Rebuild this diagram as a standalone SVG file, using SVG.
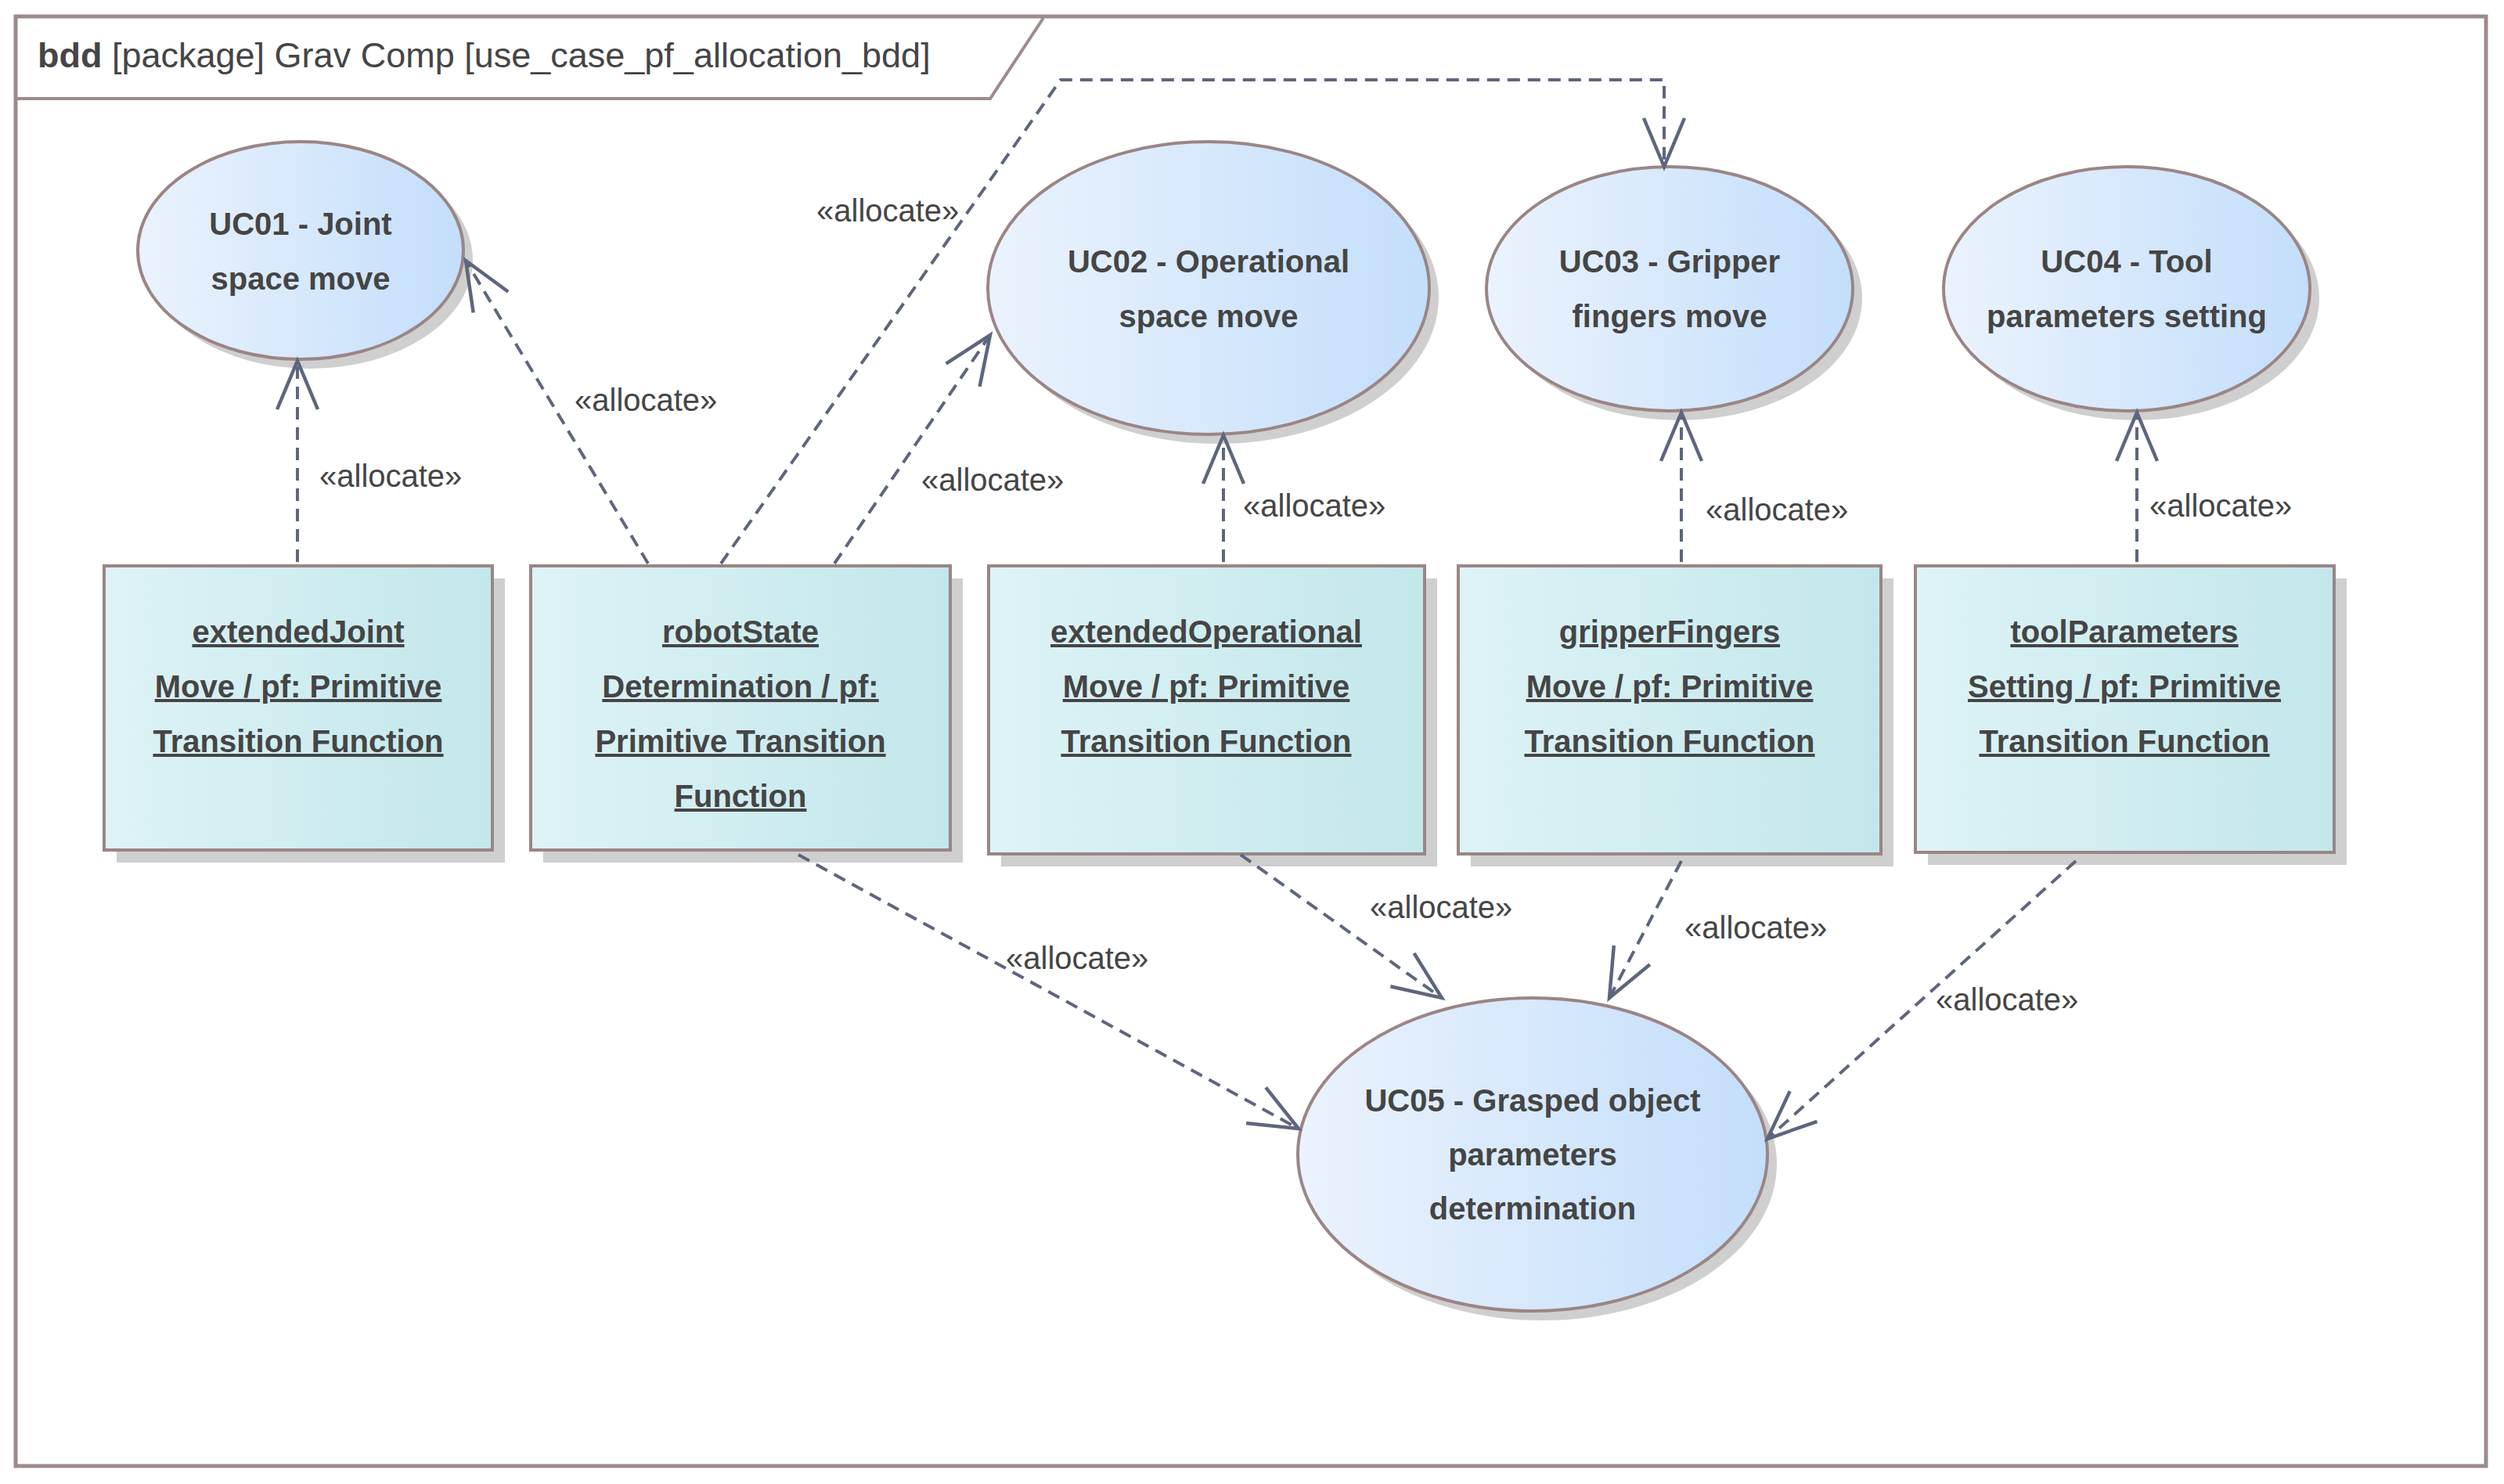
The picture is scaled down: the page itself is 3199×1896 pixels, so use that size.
<svg xmlns="http://www.w3.org/2000/svg" width="3199" height="1896" viewBox="0 0 3199 1896">
<defs>
<linearGradient id="gE" x1="0" y1="0" x2="1" y2="0"><stop offset="0" stop-color="#eaf3fd"/><stop offset="1" stop-color="#c4defa"/></linearGradient>
<linearGradient id="gB" x1="0" y1="0" x2="1" y2="0"><stop offset="0" stop-color="#def3f5"/><stop offset="1" stop-color="#c2e7eb"/></linearGradient>
<marker id="ar" markerUnits="userSpaceOnUse" markerWidth="80" markerHeight="80" refX="0" refY="0" viewBox="-70 -40 80 80" orient="auto" overflow="visible"><path d="M-62,-26 L0,0 L-62,26" fill="none" stroke="#5d667c" stroke-width="4.5"/></marker>
</defs>
<style>
.sh{fill:#cfcfcf}
.el{fill:url(#gE);stroke:#9b8585;stroke-width:4}
.bx{fill:url(#gB);stroke:#9b8585;stroke-width:4}
.t{font-family:"Liberation Sans",Arial,sans-serif;font-weight:bold;font-size:40px;fill:#454545;text-anchor:middle}
.u{text-decoration:underline}
.lb{font-family:"Liberation Sans",Arial,sans-serif;font-size:40px;fill:#454545}
.c{fill:none;stroke:#5d667c;stroke-width:4;stroke-dasharray:16 10;marker-end:url(#ar)}
</style>
<rect width="3199" height="1896" fill="#fff"/>
<g id="frame">
<rect x="20" y="21" width="3156" height="1852" fill="none" stroke="#9b8b8b" stroke-width="5"/>
<path d="M22,126 L1265,126 L1333,23" fill="none" stroke="#9b8b8b" stroke-width="4"/>
<text x="48" y="86" font-family="'Liberation Sans',Arial,sans-serif" font-size="45" fill="#454545"><tspan font-weight="bold">bdd</tspan> [package] Grav Comp [use_case_pf_allocation_bdd]</text>
</g>
<g id="UC01"><ellipse class="sh" cx="396" cy="332" rx="208" ry="139"/><ellipse class="el" cx="384" cy="320" rx="208" ry="139"/><text class="t" x="384" y="300">UC01 - Joint</text><text class="t" x="384" y="370">space move</text></g>
<g id="UC02"><ellipse class="sh" cx="1556" cy="380" rx="282" ry="187"/><ellipse class="el" cx="1544" cy="368" rx="282" ry="187"/><text class="t" x="1544" y="348">UC02 - Operational</text><text class="t" x="1544" y="418">space move</text></g>
<g id="UC03"><ellipse class="sh" cx="2145" cy="381" rx="234" ry="156"/><ellipse class="el" cx="2133" cy="369" rx="234" ry="156"/><text class="t" x="2133" y="348">UC03 - Gripper</text><text class="t" x="2133" y="418">fingers move</text></g>
<g id="UC04"><ellipse class="sh" cx="2729" cy="381" rx="234" ry="156"/><ellipse class="el" cx="2717" cy="369" rx="234" ry="156"/><text class="t" x="2717" y="348">UC04 - Tool</text><text class="t" x="2717" y="418">parameters setting</text></g>
<g id="UC05"><ellipse class="sh" cx="1970" cy="1487" rx="300" ry="200"/><ellipse class="el" cx="1958" cy="1475" rx="300" ry="200"/><text class="t" x="1958" y="1420">UC05 - Grasped object</text><text class="t" x="1958" y="1489">parameters</text><text class="t" x="1958" y="1558">determination</text></g>
<g id="box1"><rect class="sh" x="149" y="739" width="496" height="363"/><rect class="bx" x="133" y="723" width="496" height="363"/><text class="t u" x="381" y="821">extendedJoint</text><text class="t u" x="381" y="891">Move / pf: Primitive</text><text class="t u" x="381" y="961">Transition Function</text></g>
<g id="box2"><rect class="sh" x="694" y="739" width="536" height="363"/><rect class="bx" x="678" y="723" width="536" height="363"/><text class="t u" x="946" y="821">robotState</text><text class="t u" x="946" y="891">Determination / pf:</text><text class="t u" x="946" y="961">Primitive Transition</text><text class="t u" x="946" y="1031">Function</text></g>
<g id="box3"><rect class="sh" x="1279" y="739" width="557" height="368"/><rect class="bx" x="1263" y="723" width="557" height="368"/><text class="t u" x="1541" y="821">extendedOperational</text><text class="t u" x="1541" y="891">Move / pf: Primitive</text><text class="t u" x="1541" y="961">Transition Function</text></g>
<g id="box4"><rect class="sh" x="1879" y="739" width="540" height="368"/><rect class="bx" x="1863" y="723" width="540" height="368"/><text class="t u" x="2133" y="821">gripperFingers</text><text class="t u" x="2133" y="891">Move / pf: Primitive</text><text class="t u" x="2133" y="961">Transition Function</text></g>
<g id="box5"><rect class="sh" x="2463" y="739" width="535" height="366"/><rect class="bx" x="2447" y="723" width="535" height="366"/><text class="t u" x="2714" y="821">toolParameters</text><text class="t u" x="2714" y="891">Setting / pf: Primitive</text><text class="t u" x="2714" y="961">Transition Function</text></g>
<g id="connectors">
<path class="c" d="M380,718 L380,461"/>
<path class="c" d="M828,720 L595,333"/>
<path class="c" d="M921,720 L1355,102 L2126,102 L2126,213"/>
<path class="c" d="M1066,720 L1265,428"/>
<path class="c" d="M1563,718 L1563,556"/>
<path class="c" d="M2148,718 L2148,527"/>
<path class="c" d="M2730,718 L2730,527"/>
<path class="c" d="M1020,1092 L1659,1442"/>
<path class="c" d="M1585,1092 L1842,1275"/>
<path class="c" d="M2148,1100 L2056,1275"/>
<path class="c" d="M2652,1100 L2258,1455"/>
<text class="lb" x="408" y="622">«allocate»</text>
<text class="lb" x="734" y="525">«allocate»</text>
<text class="lb" x="1043" y="283">«allocate»</text>
<text class="lb" x="1177" y="627">«allocate»</text>
<text class="lb" x="1588" y="660">«allocate»</text>
<text class="lb" x="2179" y="665">«allocate»</text>
<text class="lb" x="2746" y="660">«allocate»</text>
<text class="lb" x="1285" y="1238">«allocate»</text>
<text class="lb" x="1750" y="1173">«allocate»</text>
<text class="lb" x="2152" y="1199">«allocate»</text>
<text class="lb" x="2473" y="1291">«allocate»</text>
</g>
</svg>
